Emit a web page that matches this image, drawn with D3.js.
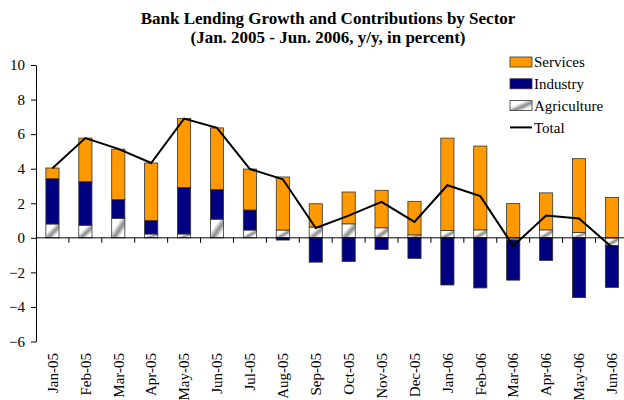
<!DOCTYPE html>
<html>
<head>
<meta charset="utf-8">
<script src="https://cdn.jsdelivr.net/npm/d3@7"></script>
<style>
  html, body { margin: 0; padding: 0; background: #fff; }
  svg { display: block; font-family: "Liberation Serif", "Times New Roman", serif; }
</style>
</head>
<body>
<svg id="chart" width="624" height="400"></svg>
<script>
// Monthly contributions to y/y bank lending growth, in percentage points
const categories = ["Jan-05","Feb-05","Mar-05","Apr-05","May-05","Jun-05","Jul-05","Aug-05","Sep-05",
                    "Oct-05","Nov-05","Dec-05","Jan-06","Feb-06","Mar-06","Apr-06","May-06","Jun-06"];
const agriculture = [0.80, 0.73, 1.13, 0.22, 0.22, 1.08, 0.45, 0.45, 0.62, 0.81, 0.58, 0.17, 0.42, 0.46, -0.13, 0.46, 0.31, -0.44];
const industry    = [2.62, 2.52, 1.08, 0.78, 2.70, 1.71, 1.16, -0.13, -1.41, -1.37, -0.67, -1.19, -2.73, -2.90, -2.32, -1.31, -3.46, -2.43];
const services    = [0.62, 2.52, 2.92, 3.33, 3.98, 3.57, 2.37, 3.07, 1.35, 1.84, 2.17, 1.94, 5.35, 4.85, 1.98, 2.14, 4.27, 2.33];
const total       = [4.02, 5.77, 5.15, 4.33, 6.90, 6.36, 3.98, 3.39, 0.57, 1.28, 2.08, 0.92, 3.04, 2.41, -0.47, 1.29, 1.12, -0.54];
const yTicks = [-6, -4, -2, 0, 2, 4, 6, 8, 10];

const seriesNames = ["Agriculture", "Industry", "Services"];
const colors = { Services: "#FF9900", Industry: "#000080" };

const svg = d3.select("#chart");

// Diagonal grey gradient used for the agriculture fill
const defs = svg.append("defs");
const grad = defs.append("linearGradient")
  .attr("id", "agriFill")
  .attr("x1", 0).attr("y1", 0).attr("x2", 1).attr("y2", 1);
grad.append("stop").attr("offset", "0%").attr("stop-color", "#ffffff");
grad.append("stop").attr("offset", "35%").attr("stop-color", "#ffffff");
grad.append("stop").attr("offset", "58%").attr("stop-color", "#8a8a8a");
grad.append("stop").attr("offset", "80%").attr("stop-color", "#ffffff");
grad.append("stop").attr("offset", "100%").attr("stop-color", "#ffffff");

const fillFor = name => name === "Agriculture" ? "url(#agriFill)" : colors[name];

const x = d3.scaleBand()
  .domain(categories)
  .range([36, 628.4])
  .paddingInner(0.6)
  .paddingOuter(0.3);

const y = d3.scaleLinear()
  .domain([-6, 10])
  .range([341.5, 65]);

// Stacked table: positives above zero, negatives below
const table = categories.map((c, i) => ({
  month: c,
  Agriculture: agriculture[i],
  Industry: industry[i],
  Services: services[i]
}));
const stacked = d3.stack()
  .keys(seriesNames)
  .offset(d3.stackOffsetDiverging)(table);

// Title
const title = svg.append("text")
  .attr("x", 328)
  .attr("text-anchor", "middle")
  .attr("font-weight", "bold")
  .attr("font-size", 17);
title.append("tspan").attr("x", 328).attr("y", 24).text("Bank Lending Growth and Contributions by Sector");
title.append("tspan").attr("x", 328).attr("y", 43).text("(Jan. 2005 - Jun. 2006, y/y, in percent)");

// Bars
svg.append("g")
  .selectAll("g")
  .data(stacked)
  .join("g")
  .attr("fill", d => fillFor(d.key))
  .selectAll("rect")
  .data(d => d)
  .join("rect")
  .attr("x", d => x(d.data.month))
  .attr("width", x.bandwidth())
  .attr("y", d => y(Math.max(d[0], d[1])))
  .attr("height", d => Math.abs(y(d[0]) - y(d[1])))
  .attr("stroke", "#333")
  .attr("stroke-width", 0.8);

// Y axis
const yAxis = svg.append("g")
  .attr("transform", "translate(36,0)")
  .call(d3.axisLeft(y).tickValues(yTicks).tickSize(5).tickSizeOuter(0).tickPadding(6));
yAxis.select(".domain").attr("stroke", "#000");
yAxis.selectAll(".tick line").attr("stroke", "#000");
yAxis.selectAll(".tick text")
  .attr("font-family", "Liberation Serif, serif")
  .attr("font-size", 15)
  .attr("fill", "#000");

// Zero line with category separator ticks
const zeroY = y(0);
svg.append("line")
  .attr("x1", 36).attr("x2", 628.4)
  .attr("y1", zeroY).attr("y2", zeroY)
  .attr("stroke", "#000").attr("stroke-width", 1);
const step = x.step();
svg.append("g")
  .selectAll("line")
  .data(categories.slice(1))
  .join("line")
  .attr("x1", d => x(d) - x.paddingInner() * step / 2)
  .attr("x2", d => x(d) - x.paddingInner() * step / 2)
  .attr("y1", zeroY).attr("y2", zeroY + 5)
  .attr("stroke", "#000");

// Category labels along the bottom
svg.append("g")
  .selectAll("text")
  .data(categories)
  .join("text")
  .attr("transform", d => `translate(${x(d) + x.bandwidth() / 2},353) rotate(-90)`)
  .attr("text-anchor", "end")
  .attr("dy", "0.35em")
  .attr("font-size", 15)
  .text(d => d);

// Total line
const line = d3.line()
  .x((d, i) => x(categories[i]) + x.bandwidth() / 2)
  .y(d => y(d));
svg.append("path")
  .datum(total)
  .attr("d", line)
  .attr("fill", "none")
  .attr("stroke", "#000")
  .attr("stroke-width", 2);

// Legend
const legendItems = ["Services", "Industry", "Agriculture", "Total"];
const legend = svg.append("g").attr("transform", "translate(510,57)");
legendItems.forEach((name, i) => {
  const g = legend.append("g").attr("transform", `translate(0,${i * 21.8})`);
  if (name === "Total") {
    g.append("line").attr("x1", 0).attr("x2", 22).attr("y1", 5).attr("y2", 5)
      .attr("stroke", "#000").attr("stroke-width", 2);
  } else {
    g.append("rect").attr("width", 22).attr("height", 10)
      .attr("fill", fillFor(name)).attr("stroke", "#333").attr("stroke-width", 0.8);
  }
  g.append("text").attr("x", 24).attr("y", 5).attr("dy", "0.35em")
    .attr("font-size", 15).text(name);
});
</script>
</body>
</html>
